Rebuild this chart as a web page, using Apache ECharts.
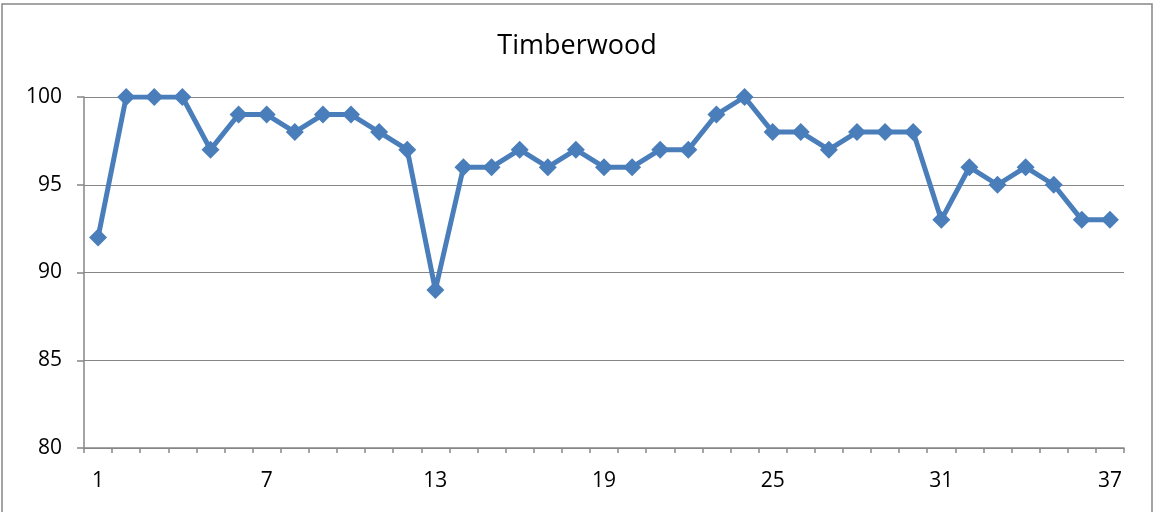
<!DOCTYPE html>
<html>
<head>
<meta charset="utf-8">
<script src="https://cdn.jsdelivr.net/npm/echarts@6/dist/echarts.min.js"></script>
<style>
  html, body { margin: 0; padding: 0; background: #fff; }
  #chart { width: 1154px; height: 512px; }
</style>
</head>
<body>
<div id="chart"></div>
<script>
// Weekly readings for Timberwood
const chartTitle = 'Timberwood';
const categories = Array.from({ length: 37 }, (_, i) => String(i + 1));
const values = [92, 100, 100, 100, 97, 99, 99, 98, 99, 99, 98, 97, 89, 96, 96, 97, 96, 97, 96, 96,
                97, 97, 99, 100, 98, 98, 97, 98, 98, 98, 93, 96, 95, 96, 95, 93, 93];
const yMin = 80, yMax = 100, yStep = 5;

const axisGray = '#868686';
const chart = echarts.init(document.getElementById('chart'));
chart.setOption({
  animation: false,
  backgroundColor: '#fff',
  title: {
    text: chartTitle,
    left: 'center',
    top: 28,
    textStyle: { fontFamily: 'Open Sans', fontSize: 27, fontWeight: 'normal', color: '#000' }
  },
  graphic: [{
    type: 'rect',
    shape: { x: 2, y: 4, width: 1150, height: 520 },
    style: { fill: 'none', stroke: axisGray, lineWidth: 1.5 },
    silent: true
  }],
  grid: { left: 84, right: 30, top: 97, bottom: 64, containLabel: false },
  xAxis: {
    type: 'category',
    data: categories,
    boundaryGap: true,
    axisLine: { lineStyle: { color: axisGray, width: 1.5 } },
    axisTick: { show: true, interval: 0, length: 5, lineStyle: { color: axisGray, width: 1.5 } },
    axisLabel: {
      interval: 5,
      margin: 23,
      fontFamily: 'Open Sans',
      fontSize: 21,
      color: '#000'
    },
    splitLine: { show: false }
  },
  yAxis: {
    type: 'value',
    min: yMin,
    max: yMax,
    interval: yStep,
    axisLine: { show: true, lineStyle: { color: axisGray, width: 1.5 } },
    axisTick: { show: true, length: 7, lineStyle: { color: axisGray, width: 1.5 } },
    axisLabel: { margin: 22, fontFamily: 'Open Sans', fontSize: 21, color: '#000' },
    splitLine: { show: true, lineStyle: { color: axisGray, width: 1 } }
  },
  series: [{
    type: 'line',
    data: values,
    symbol: 'diamond',
    symbolSize: 18,
    lineStyle: { color: '#4A7EBB', width: 5 },
    itemStyle: { color: '#4A7EBB' },
    z: 3
  }]
});
</script>
</body>
</html>
